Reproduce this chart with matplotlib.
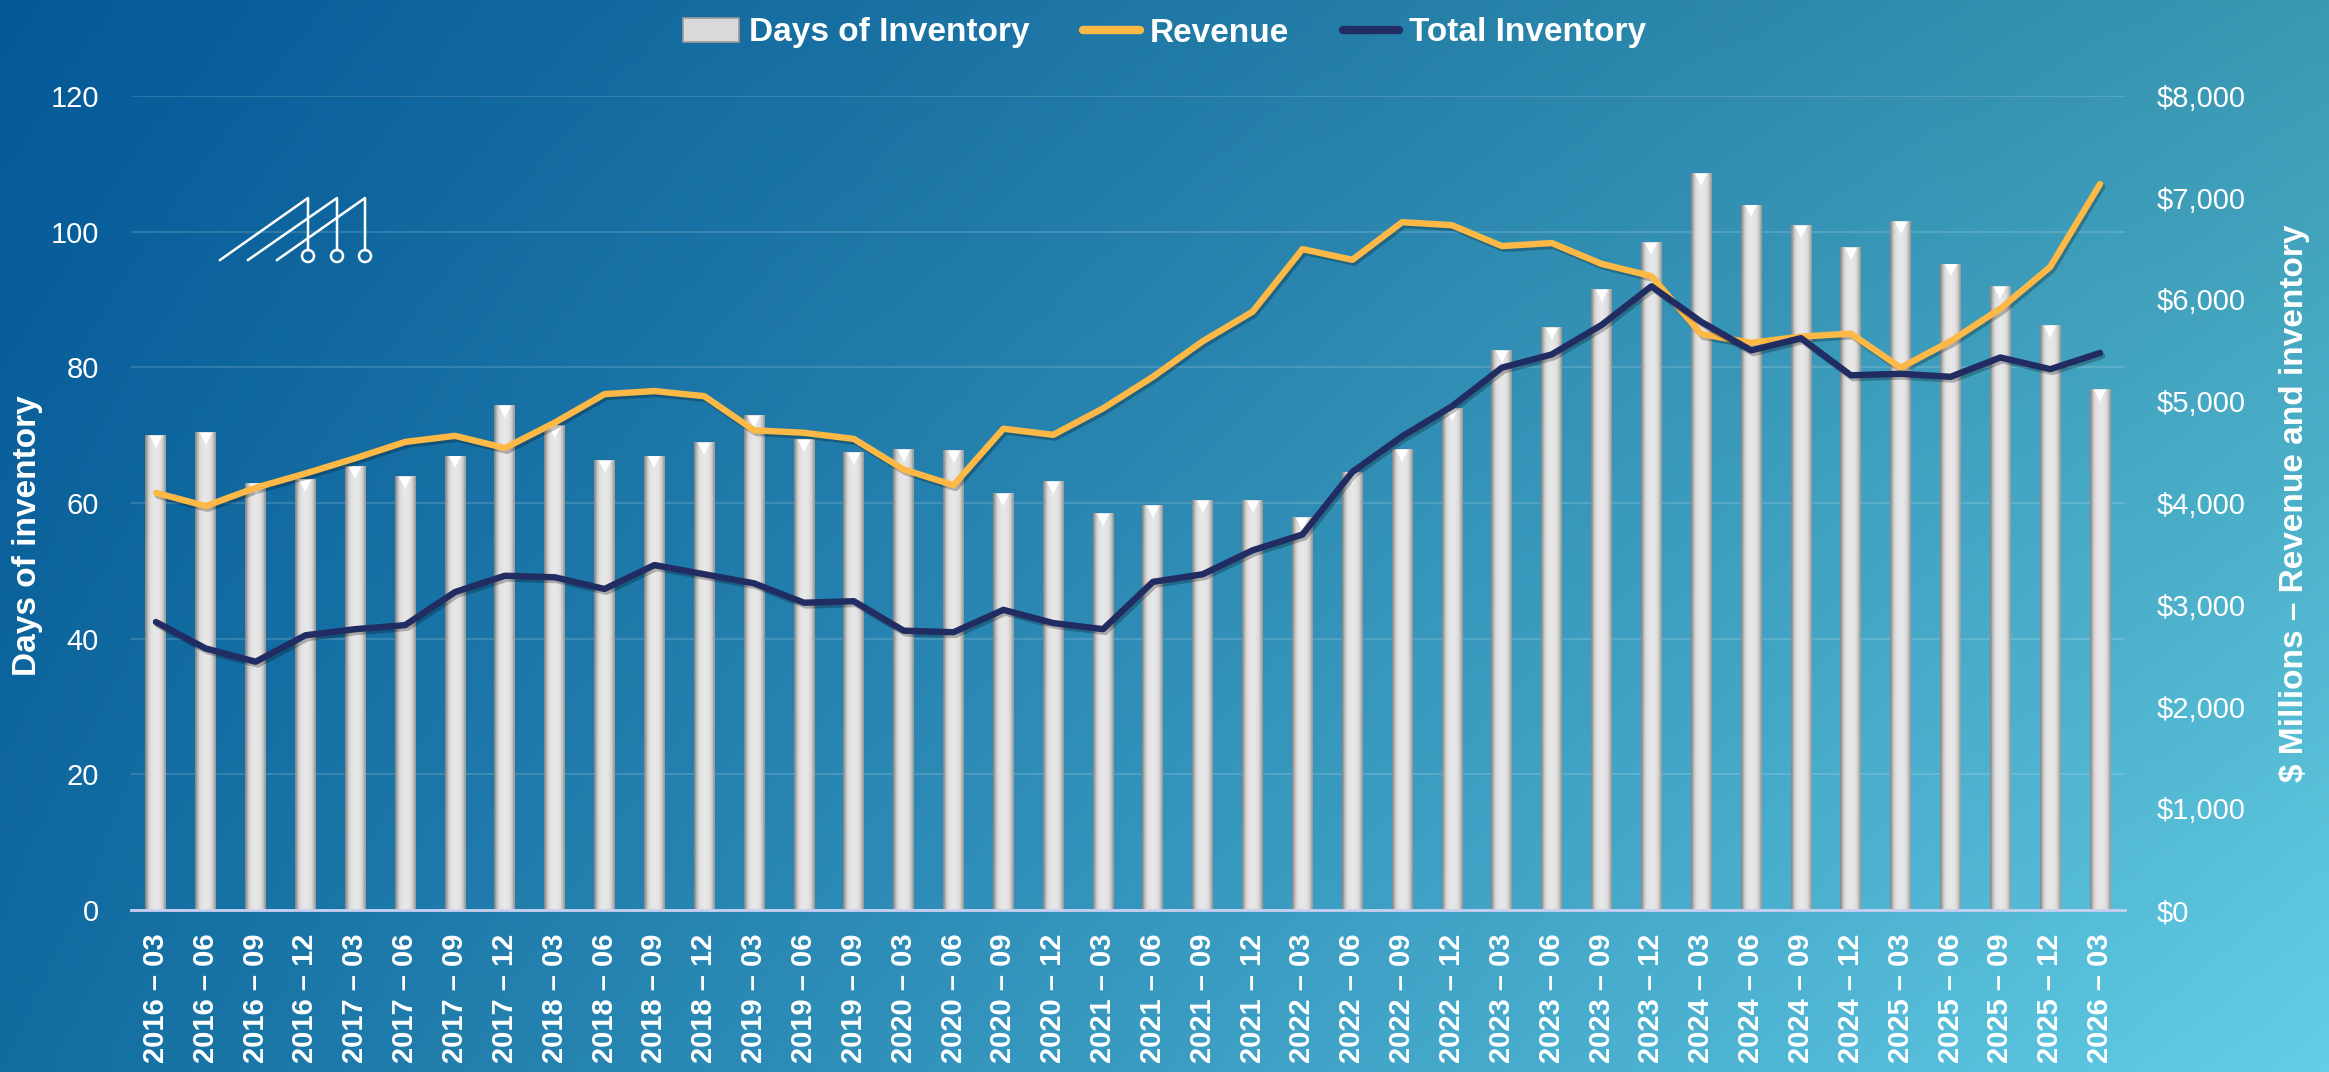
import numpy as np
import matplotlib
matplotlib.use("Agg")
import matplotlib.pyplot as plt
from matplotlib import patheffects as pe
from matplotlib.ticker import FuncFormatter, MultipleLocator
from matplotlib.transforms import ScaledTranslation
from matplotlib.lines import Line2D
from matplotlib.patches import Rectangle, Ellipse

quarters = ["2016 – 03", "2016 – 06", "2016 – 09", "2016 – 12",
            "2017 – 03", "2017 – 06", "2017 – 09", "2017 – 12",
            "2018 – 03", "2018 – 06", "2018 – 09", "2018 – 12",
            "2019 – 03", "2019 – 06", "2019 – 09",
            "2020 – 03", "2020 – 06", "2020 – 09", "2020 – 12",
            "2021 – 03", "2021 – 06", "2021 – 09", "2021 – 12",
            "2022 – 03", "2022 – 06", "2022 – 09", "2022 – 12",
            "2023 – 03", "2023 – 06", "2023 – 09", "2023 – 12",
            "2024 – 03", "2024 – 06", "2024 – 09", "2024 – 12",
            "2025 – 03", "2025 – 06", "2025 – 09", "2025 – 12",
            "2026 – 03"]

days_inventory = [70, 70.5, 63, 63.5, 65.5, 64, 67, 74.5, 71.5, 66.3, 67, 69,
                  73, 69.5, 67.5, 68, 67.8, 61.5, 63.2, 58.5, 59.7, 60.4, 60.4,
                  58, 64.5, 68, 74, 82.5, 86, 91.5, 98.5, 108.7, 104, 101, 97.8,
                  101.5, 95.3, 92, 86.3, 76.8]

revenue = [4100, 3970, 4150, 4290, 4440, 4600, 4660, 4540, 4790, 5070, 5100,
           5050, 4715, 4690, 4630, 4330, 4175, 4730, 4670, 4930, 5240, 5590,
           5880, 6495, 6390, 6760, 6730, 6525, 6555, 6350, 6230, 5660, 5575,
           5635, 5665, 5330, 5590, 5910, 6320, 7135]

total_inventory = [2830, 2570, 2440, 2700, 2760, 2800, 3125, 3285, 3270, 3155,
                   3390, 3300, 3210, 3020, 3035, 2745, 2730, 2950, 2820, 2760,
                   3225, 3300, 3535, 3690, 4305, 4655, 4950, 5330, 5460, 5750,
                   6130, 5780, 5500, 5620, 5255, 5270, 5240, 5430, 5315, 5475]

W, H = 2329, 1072
fig = plt.figure(figsize=(W / 100, H / 100), dpi=100)

# diagonal blue -> cyan background
bg = fig.add_axes([0, 0, 1, 1], zorder=-10)
yy, xx = np.mgrid[0:1:200j, 0:1:400j]
tl = np.array([4, 88, 152]) / 255
tr = np.array([58, 152, 178]) / 255
bl = np.array([18, 108, 160]) / 255
br = np.array([100, 206, 230]) / 255
img = (tl * ((1 - xx) * (1 - yy))[..., None] + tr * (xx * (1 - yy))[..., None]
       + bl * ((1 - xx) * yy)[..., None] + br * (xx * yy)[..., None])
bg.imshow(img, extent=(0, 1, 0, 1), aspect="auto", origin="upper")
bg.axis("off")

ax = fig.add_axes([131 / W, 1 - 910 / H, (2125 - 131) / W, (910 - 96) / H])
ax.patch.set_alpha(0)
x = np.arange(len(quarters))
bw = 0.42

# silver bars
bars = ax.bar(x, days_inventory, width=bw, color="#d8d8d8", zorder=2)
grad = np.array([0.55, 0.74, 0.85, 0.89, 0.90, 0.91, 0.90, 0.89, 0.86, 0.78, 0.62])
grad_img = np.repeat(grad[None, :, None], 3, axis=2)
for b in bars:
    im = ax.imshow(grad_img, extent=(b.get_x(), b.get_x() + b.get_width(), 0, b.get_height()),
                   aspect="auto", zorder=2.1, interpolation="bilinear", vmin=0, vmax=1)
    im.set_clip_path(b)
tri = ScaledTranslation(0, -5 / 72, fig.dpi_scale_trans)
ax.plot(x, days_inventory, "v", color="white", markersize=9, markeredgewidth=0,
        transform=ax.transData + tri, zorder=3)

ax.set_xlim(-0.5, len(quarters) - 0.5)
ax.set_ylim(0, 120)
ax.yaxis.set_major_locator(MultipleLocator(20))
ax.grid(axis="y", color="white", alpha=0.14, linewidth=1.5, zorder=0)
ax.set_axisbelow(True)
for s in ["top", "left", "right"]:
    ax.spines[s].set_visible(False)
ax.spines["bottom"].set_color("#c8d0f2")
ax.spines["bottom"].set_linewidth(2)
ax.spines["bottom"].set_zorder(4)
ax.set_xticks(x)
ax.set_xticklabels(quarters, rotation=90, fontsize=21, fontweight="bold",
                   color="white", family=["Liberation Sans", "DejaVu Sans"])
ax.tick_params(axis="x", length=0, pad=17)
ax.tick_params(axis="y", length=0, pad=23, labelsize=21, labelcolor="white")
for t in ax.get_yticklabels():
    t.set_family(["Liberation Sans", "DejaVu Sans"])

ax2 = ax.twinx()
ax2.patch.set_alpha(0)
ax2.set_ylim(0, 8000)
ax2.yaxis.set_major_locator(MultipleLocator(1000))
ax2.yaxis.set_major_formatter(FuncFormatter(lambda v, p: f"${v:,.0f}"))
for s in ax2.spines.values():
    s.set_visible(False)
ax2.tick_params(axis="y", length=0, pad=23, labelsize=21, labelcolor="white")
for t in ax2.get_yticklabels():
    t.set_family(["Liberation Sans", "DejaVu Sans"])

shadow = [pe.SimpleLineShadow(offset=(1.5, -2), alpha=0.25), pe.Normal()]
ax2.plot(x, revenue, color="#fdb845", linewidth=4.6, solid_capstyle="round",
         path_effects=shadow, zorder=5)
ax2.plot(x, total_inventory, color="#212c62", linewidth=4.6, solid_capstyle="round",
         path_effects=shadow, zorder=6)

fnt = ["Liberation Sans", "DejaVu Sans"]
fig.text(28 / W, 0.5, "Days of inventory", rotation=90, ha="center", va="center",
         fontsize=24, fontweight="bold", color="white", family=fnt)
fig.text(2295 / W, 1 - 503 / H, "$ Millions – Revenue and inventory", rotation=90,
         ha="center", va="center", fontsize=24, fontweight="bold", color="white", family=fnt)

handles = [Rectangle((0, 0), 1, 1, facecolor="#d9d9d9", edgecolor="#9a9a9a", linewidth=1.2),
           Line2D([], [], color="#fdb845", linewidth=6, solid_capstyle="round"),
           Line2D([], [], color="#212c62", linewidth=6, solid_capstyle="round")]
leg = fig.legend(handles, ["Days of Inventory", "Revenue", "Total Inventory"],
                 loc="center", bbox_to_anchor=(0.5, 1 - 33 / H), ncol=3, frameon=False,
                 prop={"family": fnt, "weight": "bold", "size": 24},
                 handlelength=1.7, handleheight=0.7, handletextpad=0.3, columnspacing=1.6)
for t in leg.get_texts():
    t.set_color("white")

# small logo, top left
def px(xs, ys):
    return [v / W for v in xs], [1 - v / H for v in ys]

for x0, xt in [(220, 308), (248, 337), (277, 365)]:
    lx, ly = px([x0, xt, xt], [260, 198, 250])
    fig.add_artist(Line2D(lx, ly, color="white", linewidth=1.8, transform=fig.transFigure))
    fig.add_artist(Ellipse((xt / W, 1 - 256 / H), 12 / W, 12 / H, facecolor="none",
                           edgecolor="white", linewidth=1.8, transform=fig.transFigure))

fig.savefig("out.png", dpi=100)
